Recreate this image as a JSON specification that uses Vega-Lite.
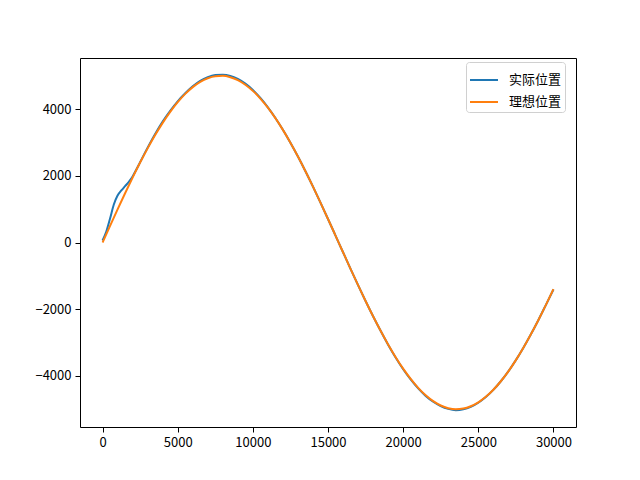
{
  "$schema": "https://vega.github.io/schema/vega-lite/v6.json",
  "width": 496,
  "height": 369,
  "autosize": {"type": "none"},
  "padding": {"top": 58, "left": 80, "right": 64, "bottom": 53},
  "background": "white",
  "config": {
    "view": {"stroke": "black", "strokeWidth": 1},
    "font": "Noto Sans CJK SC",
    "axis": {
      "grid": false,
      "domain": false,
      "tickColor": "black",
      "tickSize": 5,
      "tickWidth": 1,
      "labelColor": "black",
      "labelFont": "Noto Sans CJK SC",
      "labelFontSize": 13,
      "labelPadding": 4,
      "title": null
    },
    "legend": {
      "labelFont": "Noto Sans CJK SC",
      "labelFontSize": 13,
      "labelColor": "black"
    }
  },
  "data": {
    "values": [
      {"x": 0, "y": 60, "s": "实际位置"},
      {"x": 250, "y": 330, "s": "实际位置"},
      {"x": 500, "y": 720, "s": "实际位置"},
      {"x": 750, "y": 1140, "s": "实际位置"},
      {"x": 1000, "y": 1410, "s": "实际位置"},
      {"x": 1250, "y": 1560, "s": "实际位置"},
      {"x": 1500, "y": 1690, "s": "实际位置"},
      {"x": 1750, "y": 1820, "s": "实际位置"},
      {"x": 2000, "y": 1980, "s": "实际位置"},
      {"x": 2250, "y": 2190, "s": "实际位置"},
      {"x": 2500, "y": 2410, "s": "实际位置"},
      {"x": 3000, "y": 2845, "s": "实际位置"},
      {"x": 3500, "y": 3255, "s": "实际位置"},
      {"x": 4000, "y": 3625, "s": "实际位置"},
      {"x": 4500, "y": 3950, "s": "实际位置"},
      {"x": 5000, "y": 4235, "s": "实际位置"},
      {"x": 5500, "y": 4475, "s": "实际位置"},
      {"x": 6000, "y": 4685, "s": "实际位置"},
      {"x": 6500, "y": 4850, "s": "实际位置"},
      {"x": 7000, "y": 4960, "s": "实际位置"},
      {"x": 7500, "y": 5020, "s": "实际位置"},
      {"x": 8000, "y": 5030, "s": "实际位置"},
      {"x": 8500, "y": 4995, "s": "实际位置"},
      {"x": 9000, "y": 4905, "s": "实际位置"},
      {"x": 9500, "y": 4765, "s": "实际位置"},
      {"x": 10000, "y": 4575, "s": "实际位置"},
      {"x": 10500, "y": 4335, "s": "实际位置"},
      {"x": 11000, "y": 4055, "s": "实际位置"},
      {"x": 11500, "y": 3735, "s": "实际位置"},
      {"x": 12000, "y": 3380, "s": "实际位置"},
      {"x": 12500, "y": 2992, "s": "实际位置"},
      {"x": 13000, "y": 2578, "s": "实际位置"},
      {"x": 13500, "y": 2137, "s": "实际位置"},
      {"x": 14000, "y": 1675, "s": "实际位置"},
      {"x": 14500, "y": 1196, "s": "实际位置"},
      {"x": 15000, "y": 706, "s": "实际位置"},
      {"x": 15500, "y": 208, "s": "实际位置"},
      {"x": 16000, "y": -292, "s": "实际位置"},
      {"x": 16500, "y": -789, "s": "实际位置"},
      {"x": 17000, "y": -1278, "s": "实际位置"},
      {"x": 17500, "y": -1754, "s": "实际位置"},
      {"x": 18000, "y": -2213, "s": "实际位置"},
      {"x": 18500, "y": -2649, "s": "实际位置"},
      {"x": 19000, "y": -3065, "s": "实际位置"},
      {"x": 19500, "y": -3450, "s": "实际位置"},
      {"x": 20000, "y": -3800, "s": "实际位置"},
      {"x": 20500, "y": -4105, "s": "实际位置"},
      {"x": 21000, "y": -4375, "s": "实际位置"},
      {"x": 21500, "y": -4600, "s": "实际位置"},
      {"x": 22000, "y": -4775, "s": "实际位置"},
      {"x": 22500, "y": -4905, "s": "实际位置"},
      {"x": 23000, "y": -4990, "s": "实际位置"},
      {"x": 23500, "y": -5030, "s": "实际位置"},
      {"x": 24000, "y": -5005, "s": "实际位置"},
      {"x": 24500, "y": -4930, "s": "实际位置"},
      {"x": 25000, "y": -4805, "s": "实际位置"},
      {"x": 25500, "y": -4635, "s": "实际位置"},
      {"x": 26000, "y": -4420, "s": "实际位置"},
      {"x": 26500, "y": -4161, "s": "实际位置"},
      {"x": 27000, "y": -3864, "s": "实际位置"},
      {"x": 27500, "y": -3528, "s": "实际位置"},
      {"x": 28000, "y": -3156, "s": "实际位置"},
      {"x": 28500, "y": -2753, "s": "实际位置"},
      {"x": 29000, "y": -2323, "s": "实际位置"},
      {"x": 29500, "y": -1869, "s": "实际位置"},
      {"x": 30000, "y": -1410, "s": "实际位置"},
      {"x": 0, "y": 0, "s": "理想位置"},
      {"x": 500, "y": 499, "s": "理想位置"},
      {"x": 1000, "y": 993, "s": "理想位置"},
      {"x": 1500, "y": 1478, "s": "理想位置"},
      {"x": 2000, "y": 1947, "s": "理想位置"},
      {"x": 2500, "y": 2397, "s": "理想位置"},
      {"x": 3000, "y": 2823, "s": "理想位置"},
      {"x": 3500, "y": 3221, "s": "理想位置"},
      {"x": 4000, "y": 3587, "s": "理想位置"},
      {"x": 4500, "y": 3917, "s": "理想位置"},
      {"x": 5000, "y": 4207, "s": "理想位置"},
      {"x": 5500, "y": 4456, "s": "理想位置"},
      {"x": 6000, "y": 4660, "s": "理想位置"},
      {"x": 6500, "y": 4818, "s": "理想位置"},
      {"x": 7000, "y": 4927, "s": "理想位置"},
      {"x": 7500, "y": 4987, "s": "理想位置"},
      {"x": 8000, "y": 4998, "s": "理想位置"},
      {"x": 8500, "y": 4958, "s": "理想位置"},
      {"x": 9000, "y": 4869, "s": "理想位置"},
      {"x": 9500, "y": 4732, "s": "理想位置"},
      {"x": 10000, "y": 4547, "s": "理想位置"},
      {"x": 10500, "y": 4316, "s": "理想位置"},
      {"x": 11000, "y": 4043, "s": "理想位置"},
      {"x": 11500, "y": 3729, "s": "理想位置"},
      {"x": 12000, "y": 3377, "s": "理想位置"},
      {"x": 12500, "y": 2992, "s": "理想位置"},
      {"x": 13000, "y": 2578, "s": "理想位置"},
      {"x": 13500, "y": 2137, "s": "理想位置"},
      {"x": 14000, "y": 1675, "s": "理想位置"},
      {"x": 14500, "y": 1196, "s": "理想位置"},
      {"x": 15000, "y": 706, "s": "理想位置"},
      {"x": 15500, "y": 208, "s": "理想位置"},
      {"x": 16000, "y": -292, "s": "理想位置"},
      {"x": 16500, "y": -789, "s": "理想位置"},
      {"x": 17000, "y": -1278, "s": "理想位置"},
      {"x": 17500, "y": -1754, "s": "理想位置"},
      {"x": 18000, "y": -2213, "s": "理想位置"},
      {"x": 18500, "y": -2649, "s": "理想位置"},
      {"x": 19000, "y": -3059, "s": "理想位置"},
      {"x": 19500, "y": -3439, "s": "理想位置"},
      {"x": 20000, "y": -3784, "s": "理想位置"},
      {"x": 20500, "y": -4091, "s": "理想位置"},
      {"x": 21000, "y": -4358, "s": "理想位置"},
      {"x": 21500, "y": -4581, "s": "理想位置"},
      {"x": 22000, "y": -4758, "s": "理想位置"},
      {"x": 22500, "y": -4888, "s": "理想位置"},
      {"x": 23000, "y": -4968, "s": "理想位置"},
      {"x": 23500, "y": -5000, "s": "理想位置"},
      {"x": 24000, "y": -4981, "s": "理想位置"},
      {"x": 24500, "y": -4912, "s": "理想位置"},
      {"x": 25000, "y": -4795, "s": "理想位置"},
      {"x": 25500, "y": -4629, "s": "理想位置"},
      {"x": 26000, "y": -4417, "s": "理想位置"},
      {"x": 26500, "y": -4161, "s": "理想位置"},
      {"x": 27000, "y": -3864, "s": "理想位置"},
      {"x": 27500, "y": -3528, "s": "理想位置"},
      {"x": 28000, "y": -3156, "s": "理想位置"},
      {"x": 28500, "y": -2753, "s": "理想位置"},
      {"x": 29000, "y": -2323, "s": "理想位置"},
      {"x": 29500, "y": -1869, "s": "理想位置"},
      {"x": 30000, "y": -1397, "s": "理想位置"}
    ]
  },
  "encoding": {
    "x": {
      "field": "x",
      "type": "quantitative",
      "scale": {"domain": [-1500, 31500], "nice": false, "zero": false},
      "axis": {"values": [0, 5000, 10000, 15000, 20000, 25000, 30000], "format": "d"}
    },
    "y": {
      "field": "y",
      "type": "quantitative",
      "scale": {"domain": [-5533, 5533], "nice": false, "zero": false},
      "axis": {"values": [-4000, -2000, 0, 2000, 4000], "format": "d"}
    },
    "color": {
      "field": "s",
      "type": "nominal",
      "scale": {"domain": ["实际位置", "理想位置"], "range": ["#1f77b4", "#ff7f0e"]},
      "legend": {
        "title": null,
        "orient": "none",
        "legendX": 386,
        "legendY": 4,
        "symbolType": "stroke",
        "symbolSize": 784,
        "symbolStrokeWidth": 2,
        "labelOffset": 10,
        "rowPadding": 0,
        "padding": 3,
        "fillColor": "white",
        "strokeColor": "#d0d0d0",
        "cornerRadius": 3
      }
    }
  },
  "layer": [
    {
      "transform": [{"filter": "datum.s === '实际位置'"}],
      "mark": {"type": "line", "strokeWidth": 2, "interpolate": "monotone"}
    },
    {
      "transform": [{"filter": "datum.s === '理想位置'"}],
      "mark": {"type": "line", "strokeWidth": 2, "interpolate": "monotone"}
    }
  ]
}
